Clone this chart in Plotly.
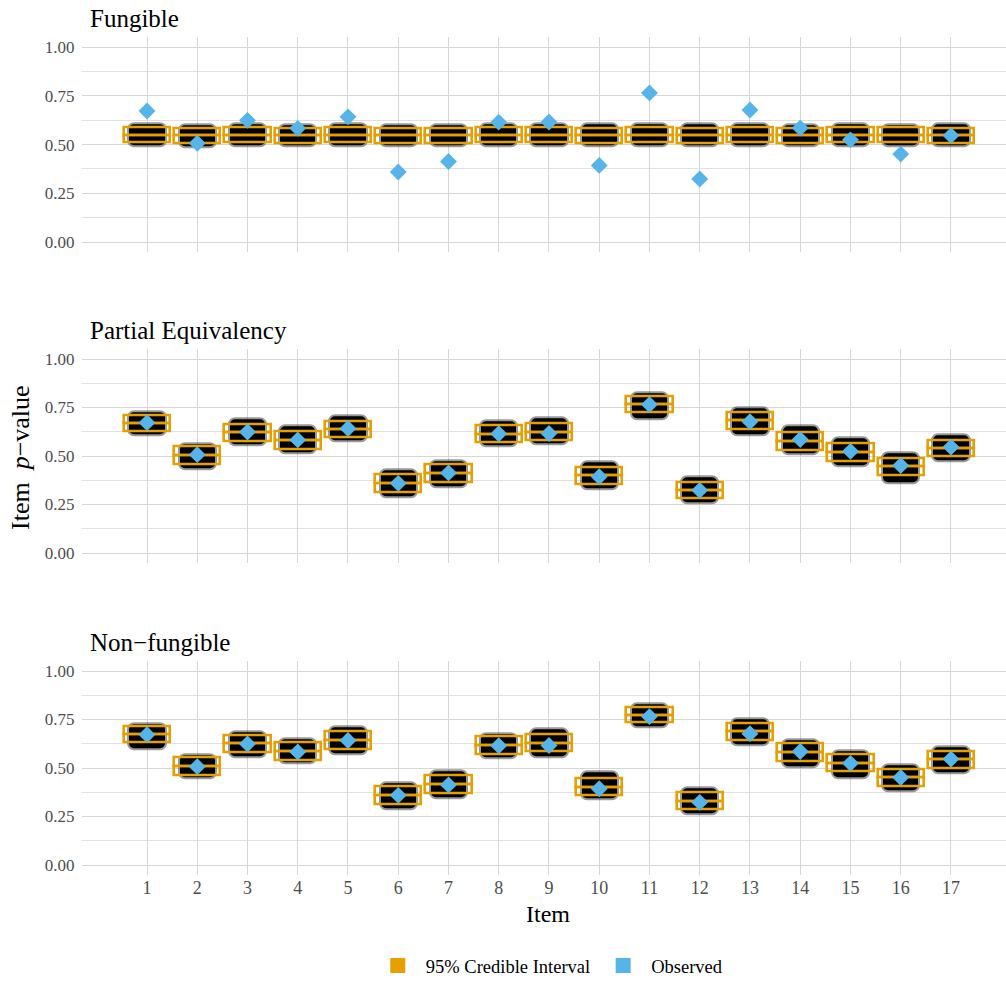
import plotly.graph_objects as go

# ---- data -------------------------------------------------------------
items = list(range(1, 18))
tick_labels = [str(i) for i in items]
y_ticks = [0.0, 0.25, 0.5, 0.75, 1.0]
y_tick_labels = ["0.00", "0.25", "0.50", "0.75", "1.00"]
panel_titles = ["Fungible", "Partial Equivalency", "Non\u2212fungible"]

# observed item p-values (same data under each model)
observed = [0.672, 0.507, 0.624, 0.583, 0.642, 0.359, 0.413, 0.615, 0.616,
            0.393, 0.765, 0.323, 0.677, 0.585, 0.524, 0.451, 0.546]

# 95% credible intervals of the posterior predictive p-values
fung_lo = [0.510, 0.509, 0.510, 0.509, 0.510, 0.509, 0.509, 0.510, 0.510,
           0.509, 0.510, 0.509, 0.510, 0.509, 0.510, 0.510, 0.509]
fung_med = [0.548, 0.547, 0.548, 0.547, 0.548, 0.547, 0.547, 0.548, 0.548,
            0.547, 0.548, 0.547, 0.548, 0.547, 0.548, 0.548, 0.547]
fung_hi = [0.586, 0.585, 0.586, 0.585, 0.586, 0.585, 0.585, 0.586, 0.586,
           0.585, 0.586, 0.585, 0.586, 0.585, 0.586, 0.586, 0.585]

part_lo = [0.625, 0.459, 0.577, 0.536, 0.594, 0.313, 0.364, 0.569, 0.579,
           0.354, 0.725, 0.282, 0.639, 0.531, 0.474, 0.402, 0.496]
part_med = [0.667, 0.505, 0.620, 0.580, 0.637, 0.359, 0.410, 0.613, 0.623,
            0.400, 0.766, 0.324, 0.682, 0.577, 0.520, 0.445, 0.540]
part_hi = [0.708, 0.548, 0.663, 0.625, 0.680, 0.406, 0.457, 0.656, 0.668,
           0.443, 0.806, 0.366, 0.725, 0.622, 0.565, 0.488, 0.582]

nonf_lo = [0.630, 0.464, 0.581, 0.540, 0.598, 0.314, 0.368, 0.572, 0.584,
           0.359, 0.736, 0.287, 0.644, 0.536, 0.481, 0.404, 0.498]
nonf_med = [0.672, 0.508, 0.625, 0.585, 0.642, 0.360, 0.414, 0.617, 0.629,
            0.403, 0.774, 0.330, 0.687, 0.582, 0.526, 0.450, 0.543]
nonf_hi = [0.713, 0.553, 0.670, 0.632, 0.687, 0.406, 0.460, 0.661, 0.674,
           0.447, 0.813, 0.373, 0.730, 0.627, 0.571, 0.495, 0.588]

# extent of the dense cloud of posterior predictive draws
fung_cloud_lo = [0.497, 0.493, 0.497, 0.496, 0.497, 0.498, 0.495, 0.498, 0.497,
                 0.496, 0.497, 0.495, 0.497, 0.496, 0.497, 0.497, 0.497]
fung_cloud_hi = [0.602, 0.601, 0.602, 0.600, 0.603, 0.601, 0.600, 0.602, 0.603,
                 0.602, 0.604, 0.603, 0.602, 0.601, 0.602, 0.601, 0.602]

part_cloud_lo = [0.610, 0.437, 0.560, 0.517, 0.580, 0.292, 0.343, 0.555, 0.563,
                 0.334, 0.695, 0.262, 0.614, 0.513, 0.450, 0.362, 0.478]
part_cloud_hi = [0.725, 0.562, 0.688, 0.652, 0.703, 0.424, 0.475, 0.680, 0.695,
                 0.468, 0.822, 0.388, 0.748, 0.655, 0.592, 0.512, 0.606]

nonf_cloud_lo = [0.602, 0.450, 0.561, 0.528, 0.576, 0.293, 0.347, 0.556, 0.560,
                 0.343, 0.716, 0.268, 0.622, 0.510, 0.450, 0.386, 0.480]
nonf_cloud_hi = [0.727, 0.568, 0.686, 0.648, 0.708, 0.421, 0.482, 0.674, 0.697,
                 0.480, 0.826, 0.396, 0.752, 0.642, 0.587, 0.516, 0.608]

# ---- styling ----------------------------------------------------------
ORANGE = "#E69F00"
BLUE = "#56B4E9"
GRID = "#D6D6D6"
TICK = "#4D4D4D"
FONT = "Liberation Serif"
W, H = 1006, 985

panels = [
    (fung_lo, fung_med, fung_hi, fung_cloud_lo, fung_cloud_hi),
    (part_lo, part_med, part_hi, part_cloud_lo, part_cloud_hi),
    (nonf_lo, nonf_med, nonf_hi, nonf_cloud_lo, nonf_cloud_hi),
]
# vertical pixel extents (top, bottom) of each panel
panel_px = [(37.3, 251.8), (349.3, 562.7), (661.3, 874.7)]
title_px = [19, 331, 642]

fig = go.Figure()

for k, (lo, med, hi, c_lo, c_hi) in enumerate(panels):
    xa = "x" if k == 0 else f"x{k + 1}"
    ya = "y" if k == 0 else f"y{k + 1}"

    # cloud of draws: black core with a translucent rim
    fig.add_trace(go.Bar(
        x=items, base=c_lo, y=[h - l for h, l in zip(c_hi, c_lo)],
        width=0.70, xaxis=xa, yaxis=ya, showlegend=False, hoverinfo="skip",
        marker=dict(color="#000000", cornerradius=5,
                    line=dict(color="rgba(0,0,0,0.40)", width=4)),
    ))
    # crossbar: lower half and upper half boxes share the median edge
    for b0, b1 in ((lo, med), (med, hi)):
        fig.add_trace(go.Bar(
            x=items, base=b0, y=[t - s for t, s in zip(b1, b0)],
            width=0.92, xaxis=xa, yaxis=ya, showlegend=False, hoverinfo="skip",
            marker=dict(color="rgba(0,0,0,0)", line=dict(color=ORANGE, width=2.6)),
        ))
    # observed p-values
    fig.add_trace(go.Scatter(
        x=items, y=observed, mode="markers", xaxis=xa, yaxis=ya,
        showlegend=False, hoverinfo="skip",
        marker=dict(symbol="diamond", size=13, color=BLUE),
    ))

# legend keys
fig.add_trace(go.Scatter(x=[None], y=[None], mode="markers",
                         name="95% Credible Interval",
                         marker=dict(symbol="square", size=15, color=ORANGE)))
fig.add_trace(go.Scatter(x=[None], y=[None], mode="markers", name="Observed",
                         marker=dict(symbol="square", size=15, color=BLUE)))

x_left, x_right = 82, 1006
layout = dict(
    width=W, height=H, margin=dict(l=0, r=0, t=0, b=0),
    paper_bgcolor="white", plot_bgcolor="white",
    barmode="overlay", bargap=0,
    font=dict(family=FONT, color="black"),
    showlegend=True,
    legend=dict(orientation="h", x=0.546, xanchor="center",
                y=0, yanchor="bottom",
                font=dict(size=18.5, family=FONT, color="black"),
                itemwidth=46, tracegroupgap=0),
)

for k in range(3):
    top, bot = panel_px[k]
    sfx = "" if k == 0 else str(k + 1)
    layout["xaxis" + sfx] = dict(
        domain=[x_left / W, x_right / W], anchor="y" + sfx,
        range=[-0.2935, 18.095], tickvals=items, ticktext=tick_labels,
        showticklabels=(k == 2), showgrid=True, gridcolor=GRID, gridwidth=1,
        zeroline=False, showline=False, ticks="",
        tickfont=dict(size=18, color=TICK, family=FONT),
        automargin=False, fixedrange=True,
    )
    layout["yaxis" + sfx] = dict(
        domain=[1 - bot / H, 1 - top / H], anchor="x" + sfx,
        range=[-0.05, 1.05], tickvals=y_ticks, ticktext=y_tick_labels,
        showgrid=True, gridcolor=GRID, gridwidth=1, zeroline=False,
        showline=False, ticks="outside", ticklen=3, tickcolor="rgba(0,0,0,0)",
        tickfont=dict(size=17, color=TICK, family=FONT),
        minor=dict(tickvals=[0.125, 0.375, 0.625, 0.875], showgrid=True,
                   gridcolor="#E0E0E0", gridwidth=1),
        automargin=False, fixedrange=True,
    )

annotations = []
for k, t in enumerate(panel_titles):
    annotations.append(dict(
        text=t, x=88 / W, y=1 - title_px[k] / H, xref="paper", yref="paper",
        xanchor="left", yanchor="middle", showarrow=False,
        font=dict(size=25, family=FONT, color="black"),
    ))
annotations.append(dict(
    text="Item", x=548 / W, y=1 - 914 / H, xref="paper", yref="paper",
    xanchor="center", yanchor="middle", showarrow=False,
    font=dict(size=24, family=FONT, color="black"),
))
annotations.append(dict(
    text="Item  <i>p</i>\u2212value", x=21 / W, y=1 - 458 / H,
    xref="paper", yref="paper", xanchor="center", yanchor="middle",
    textangle=-90, showarrow=False,
    font=dict(size=26, family=FONT, color="black"),
))
layout["annotations"] = annotations

fig.update_layout(**layout)
fig.write_html("out.html")
